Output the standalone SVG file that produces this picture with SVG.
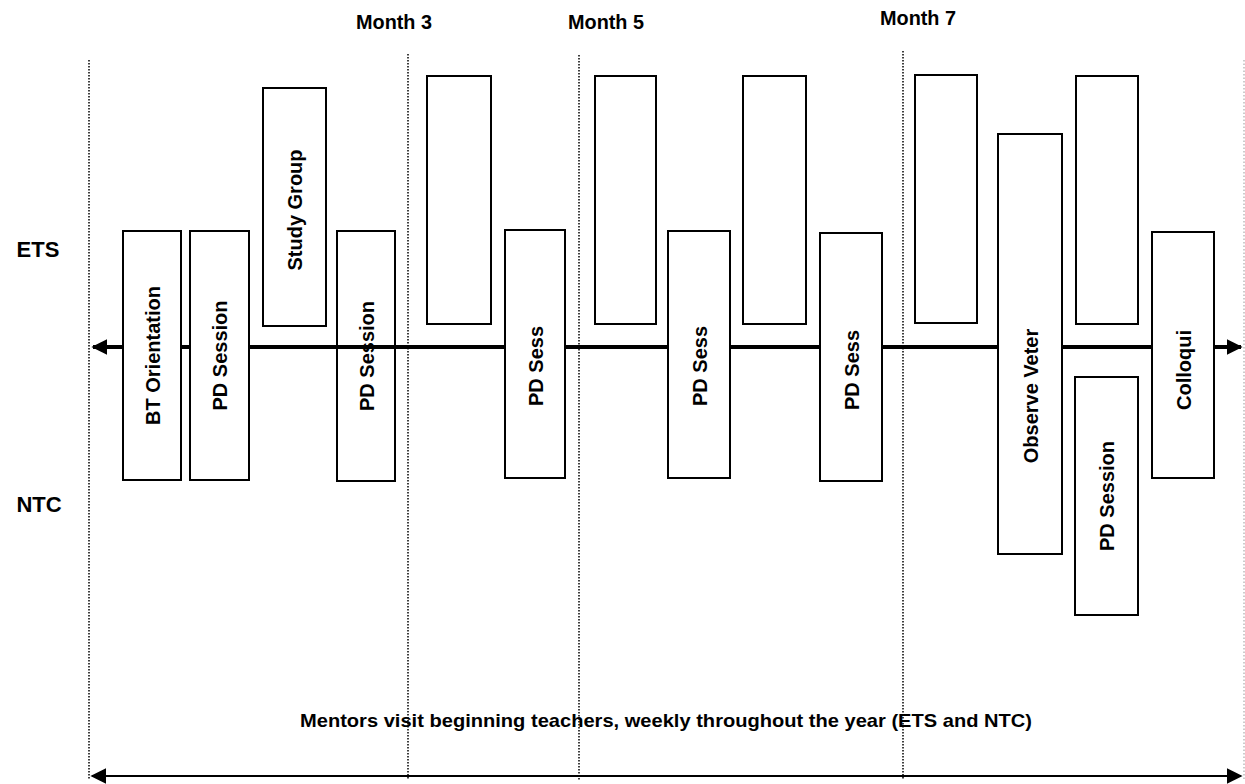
<svg xmlns="http://www.w3.org/2000/svg" width="1245" height="784" viewBox="0 0 1245 784">
<defs>
<style>
.box{fill:#fff;stroke:#000;stroke-width:2}
.bt{font-family:"Liberation Sans",Arial,sans-serif;font-weight:bold;font-size:20px;fill:#000;text-anchor:middle}
.lbl{font-family:"Liberation Sans",Arial,sans-serif;font-weight:bold;fill:#000}
.dot{stroke:#000;stroke-width:1.5;stroke-dasharray:1.5 1.5;fill:none}
</style>
<marker id="ah" viewBox="0 0 10 10" refX="9" refY="5" markerWidth="4" markerHeight="4" orient="auto-start-reverse" markerUnits="strokeWidth">
<path d="M0,0 L10,5 L0,10 z" fill="#000"/>
</marker>
<marker id="ah2" viewBox="0 0 10 10" refX="9" refY="5" markerWidth="8" markerHeight="8" orient="auto-start-reverse" markerUnits="strokeWidth">
<path d="M0,0 L10,5 L0,10 z" fill="#000"/>
</marker>
</defs>
<rect width="1245" height="784" fill="#fff"/>
<g id="gridlines">
<line class="dot" x1="89" y1="60" x2="89" y2="780"/>
<line class="dot" x1="408" y1="54" x2="408" y2="780"/>
<line class="dot" x1="579" y1="55" x2="579" y2="780"/>
<line class="dot" x1="903" y1="51" x2="903" y2="780"/>
<line x1="1244" y1="60" x2="1244" y2="780" stroke="#999" stroke-width="1" stroke-dasharray="1.5 2"/>
</g>
<g id="labels">
<text class="lbl" x="394" y="29" font-size="20" text-anchor="middle" textLength="76" lengthAdjust="spacingAndGlyphs">Month 3</text>
<text class="lbl" x="606" y="29" font-size="20" text-anchor="middle" textLength="76" lengthAdjust="spacingAndGlyphs">Month 5</text>
<text class="lbl" x="918" y="25" font-size="20" text-anchor="middle" textLength="76" lengthAdjust="spacingAndGlyphs">Month 7</text>
<text class="lbl" x="38" y="257" font-size="22" text-anchor="middle">ETS</text>
<text class="lbl" x="39" y="512" font-size="22" text-anchor="middle">NTC</text>
<text class="lbl" x="666" y="727" font-size="19" text-anchor="middle" textLength="732" lengthAdjust="spacingAndGlyphs">Mentors visit beginning teachers, weekly throughout the year (ETS and NTC)</text>
</g>
<g id="n4"><rect class="box" x="337" y="231" width="58" height="250"/><text class="bt" transform="translate(373.5,356) rotate(-90)">PD Session</text></g>
<g id="connectors">
<line x1="93" y1="347" x2="1241" y2="347" stroke="#000" stroke-width="4" marker-start="url(#ah)" marker-end="url(#ah)"/>
<line x1="92" y1="776" x2="1241" y2="776" stroke="#000" stroke-width="2" marker-start="url(#ah2)" marker-end="url(#ah2)"/>
</g>
<g id="n1"><rect class="box" x="123" y="231" width="58" height="249"/><text class="bt" transform="translate(159.5,355.5) rotate(-90)">BT Orientation</text></g>
<g id="n2"><rect class="box" x="190" y="231" width="59" height="249"/><text class="bt" transform="translate(227,355.5) rotate(-90)">PD Session</text></g>
<g id="n3"><rect class="box" x="263" y="88" width="63" height="238"/><text class="bt" transform="translate(302,210) rotate(-90)">Study Group</text></g>
<g id="n5"><rect class="box" x="427" y="76" width="64" height="248"/></g>
<g id="n6"><rect class="box" x="505" y="230" width="60" height="248"/><text class="bt" transform="translate(542.5,366) rotate(-90)">PD Sess</text></g>
<g id="n7"><rect class="box" x="595" y="76" width="61" height="248"/></g>
<g id="n8"><rect class="box" x="668" y="231" width="62" height="247"/><text class="bt" transform="translate(706.5,366) rotate(-90)">PD Sess</text></g>
<g id="n9"><rect class="box" x="743" y="76" width="63" height="248"/></g>
<g id="n10"><rect class="box" x="820" y="233" width="62" height="248"/><text class="bt" transform="translate(858.5,370) rotate(-90)">PD Sess</text></g>
<g id="n11"><rect class="box" x="915" y="75" width="62" height="248"/></g>
<g id="n12"><rect class="box" x="998" y="134" width="64" height="420"/><text class="bt" transform="translate(1037.5,396) rotate(-90)">Observe Veter</text></g>
<g id="n13"><rect class="box" x="1076" y="76" width="62" height="248"/></g>
<g id="n14"><rect class="box" x="1075" y="377" width="63" height="238"/><text class="bt" transform="translate(1114,496) rotate(-90)">PD Session</text></g>
<g id="n15"><rect class="box" x="1152" y="232" width="62" height="246"/><text class="bt" transform="translate(1190.5,370) rotate(-90)">Colloqui</text></g>
</svg>
